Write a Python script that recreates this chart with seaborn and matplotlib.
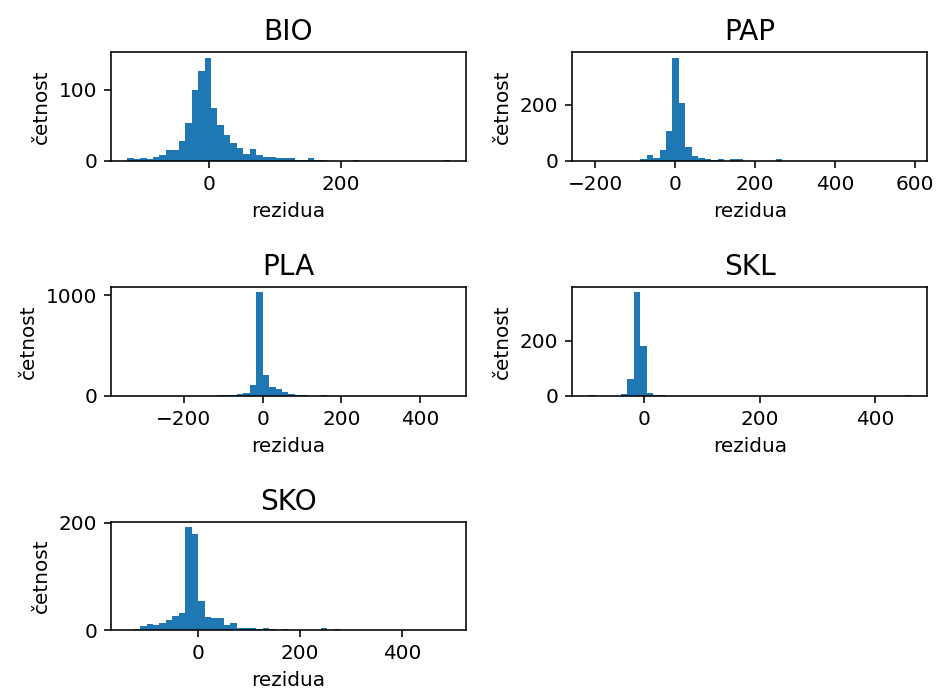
import numpy as np
import pandas as pd
import matplotlib
matplotlib.use("Agg")
import matplotlib.pyplot as plt
import seaborn as sns

# Residual histograms per category: 50 equal bins between lo and hi
categories = ["BIO", "PAP", "PLA", "SKL", "SKO"]

bio_range = (-124.4, 365.5)
bio_counts = [4, 3, 4, 3, 6, 8, 15, 15, 28, 53,
              100, 126, 145, 75, 50, 37, 25, 18, 10, 17,
              8, 6, 6, 4, 4, 4, 2, 2, 4, 2,
              2, 0, 0, 0, 0, 2, 0, 0, 0, 0,
              0, 0, 0, 0, 0, 0, 0, 0, 0, 2]

pap_range = (-216.4, 590.3)
pap_counts = [1, 0, 0, 0, 0, 0, 0, 0, 6, 21,
              10, 38, 106, 366, 207, 48, 18, 10, 6, 3,
              6, 0, 6, 6, 0, 0, 0, 0, 0, 6,
              0, 0, 0, 0, 0, 0, 0, 0, 0, 0,
              0, 0, 0, 0, 0, 0, 0, 0, 0, 1]

pla_range = (-344.4, 475.6)
pla_counts = [1, 0, 0, 0, 0, 0, 0, 0, 0, 0,
              0, 0, 0, 0, 10, 10, 10, 12, 30, 102,
              1030, 208, 89, 63, 33, 15, 3, 10, 0, 0,
              10, 0, 0, 0, 0, 0, 0, 0, 0, 0,
              0, 0, 0, 0, 0, 0, 0, 0, 0, 1]

skl_range = (-95.4, 461.9)
skl_counts = [1, 0, 0, 0, 0, 5, 61, 376, 181, 10,
              4, 3, 0, 0, 0, 0, 0, 0, 0, 0,
              0, 0, 0, 0, 0, 0, 0, 0, 0, 0,
              0, 0, 0, 0, 0, 0, 0, 0, 0, 0,
              0, 0, 0, 0, 0, 0, 0, 0, 0, 1]

sko_range = (-140.0, 494.3)
sko_counts = [1, 2, 8, 12, 9, 13, 19, 27, 33, 192,
              179, 55, 24, 22, 22, 10, 13, 5, 5, 5,
              3, 5, 2, 0, 2, 0, 0, 0, 0, 0,
              5, 0, 2, 0, 0, 0, 0, 0, 0, 0,
              0, 0, 0, 0, 0, 0, 0, 0, 0, 1]

ranges = [bio_range, pap_range, pla_range, skl_range, sko_range]
counts = [bio_counts, pap_counts, pla_counts, skl_counts, sko_counts]

x_ticks = [[0, 200], [-200, 0, 200, 400, 600], [-200, 0, 200, 400],
           [0, 200, 400], [0, 200, 400]]
y_ticks = [[0, 100], [0, 200], [0, 1000], [0, 200], [0, 200]]

fig, axes = plt.subplots(3, 2, figsize=(936 / 144, 695 / 144), dpi=144)
fig.subplots_adjust(left=0.1186, right=0.9907, top=0.9245, bottom=0.0931,
                    wspace=0.30, hspace=1.163)
axes = axes.ravel()

for ax, name, (lo, hi), cnt, xt, yt in zip(axes, categories, ranges, counts,
                                           x_ticks, y_ticks):
    nbins = len(cnt)
    width = (hi - lo) / nbins
    centers = lo + width * (np.arange(nbins) + 0.5)
    df = pd.DataFrame({"rezidua": centers, "n": cnt})
    sns.histplot(data=df, x="rezidua", weights="n", bins=nbins,
                 binrange=(lo, hi), ax=ax,
                 color="#1f77b4", alpha=1, linewidth=0)
    ax.set_xticks(xt)
    ax.set_yticks(yt)
    ax.set_title(name, fontsize=14)
    ax.set_xlabel("rezidua")
    ax.set_ylabel("četnost")

axes[-1].remove()

fig.savefig("out.png", dpi=144)
